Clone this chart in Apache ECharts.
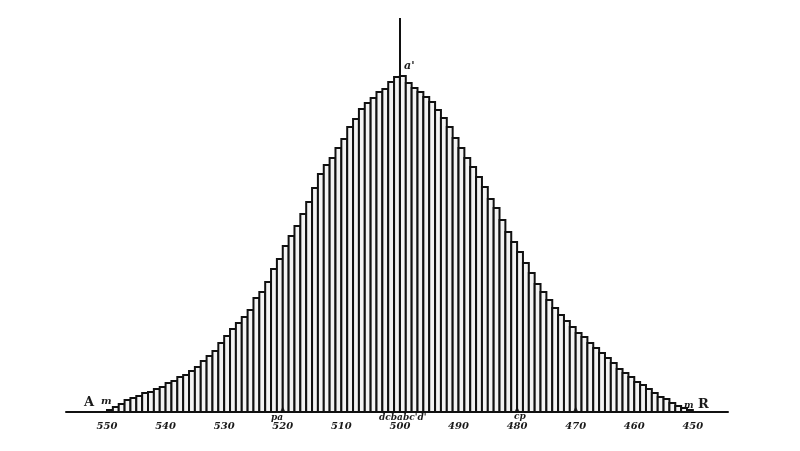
<!DOCTYPE html>
<html>
<head>
<meta charset="utf-8">
<script src="https://cdn.jsdelivr.net/npm/echarts@6/dist/echarts.min.js"></script>
<style>
html,body{margin:0;padding:0;background:#fff;}
#chart{width:800px;height:451px;}
</style>
</head>
<body>
<div id="chart"></div>
<script>
// Bin left edges (values on the scale, from 550 down to 451)
var binStarts = [];
for (var b = 550; b > 450; b--) binStarts.push(b);

// Heights of the 100 columns (left to right)
var heights = [
  2, 5, 8, 12, 14, 16, 19, 20, 23, 25,
  29, 31, 35, 37, 41, 45, 51, 56, 61, 69,
  76, 83, 89, 95, 102, 114, 120, 130, 143, 153,
  166, 176, 186, 198, 210, 224, 238, 247, 254, 264,
  273, 285, 293, 303, 309, 314, 320, 323, 330, 335,
  336, 329, 324, 320, 315, 310, 302, 294, 285, 274,
  264, 254, 245, 235, 225, 213, 204, 192, 180, 170,
  160, 149, 139, 128, 120, 112, 104, 97, 91, 85,
  79, 75, 69, 64, 59, 54, 49, 43, 39, 35,
  30, 27, 23, 19, 15, 13, 9, 6, 4, 2
];

// Tick labels of the scale
var tickValues = [550, 540, 530, 520, 510, 500, 490, 480, 470, 460, 450];
// Small marks on the base line
var markedTicks = [520, 480, 470];
// Position of the central vertical line and its height
var centreValue = 500;
var centreTop = 394;

var data = binStarts.map(function (s, i) { return [s, heights[i]]; });

var chart = echarts.init(document.getElementById('chart'), null, {renderer: 'canvas'});

function txt(t, size, italic) {
  return {text: t, fontSize: size, fontFamily: 'DejaVu Serif', fontStyle: italic ? 'italic' : 'normal', fontWeight: 'bold', fill: '#1a1a1a'};
}

chart.setOption({
  animation: false,
  backgroundColor: '#ffffff',
  grid: {left: 66, right: 72, top: 12, bottom: 39, containLabel: false},
  xAxis: {
    type: 'value',
    min: 444,
    max: 557,
    inverse: true,
    axisLine: {show: true, onZero: false, lineStyle: {color: '#111', width: 2}},
    axisTick: {show: false},
    splitLine: {show: false},
    axisLabel: {
      customValues: tickValues,
      margin: 9,
      fontSize: 10,
      fontFamily: 'DejaVu Serif',
      fontStyle: 'italic',
      fontWeight: 'bold',
      color: '#1a1a1a'
    }
  },
  yAxis: {
    type: 'value',
    min: 0,
    max: 400,
    show: false
  },
  series: [
    {
      type: 'custom',
      data: data,
      clip: false,
      renderItem: function (params, api) {
        var x0 = api.value(0);
        var h = api.value(1);
        var p0 = api.coord([x0, 0]);
        var p1 = api.coord([x0 - 1, h]);
        return {
          type: 'rect',
          shape: {x: p0[0], y: p1[1], width: p1[0] - p0[0], height: p0[1] - p1[1]},
          style: {fill: '#f3f3f3', stroke: '#111111', lineWidth: 2}
        };
      },
      markLine: {
        silent: true,
        symbol: 'none',
        label: {show: false},
        lineStyle: {color: '#111', width: 2, type: 'solid'},
        data: [[{coord: [centreValue, 0]}, {coord: [centreValue, centreTop]}]]
      },
      z: 2
    },
    {
      type: 'scatter',
      data: markedTicks.map(function (v) { return [v, 3]; }),
      symbol: 'triangle',
      symbolSize: 5,
      itemStyle: {color: '#111'},
      z: 3
    }
  ],
  graphic: [
    {type: 'text', left: 84, top: 396, style: txt('A', 13, false)},
    {type: 'text', left: 101, top: 396, style: txt('m', 10, true)},
    {type: 'text', left: 684, top: 401, style: txt('m', 9, true)},
    {type: 'text', left: 698, top: 398, style: txt('R', 13, false)},
    {type: 'text', left: 404, top: 61, style: txt("a'", 11, true)},
    {type: 'text', left: 379, top: 413, style: txt("dcbabc'd'", 9, true)},
    {type: 'text', left: 271, top: 413, style: txt('pa', 9, true)},
    {type: 'text', left: 514, top: 412, style: txt('cp', 9, true)}
  ]
});
</script>
</body>
</html>
